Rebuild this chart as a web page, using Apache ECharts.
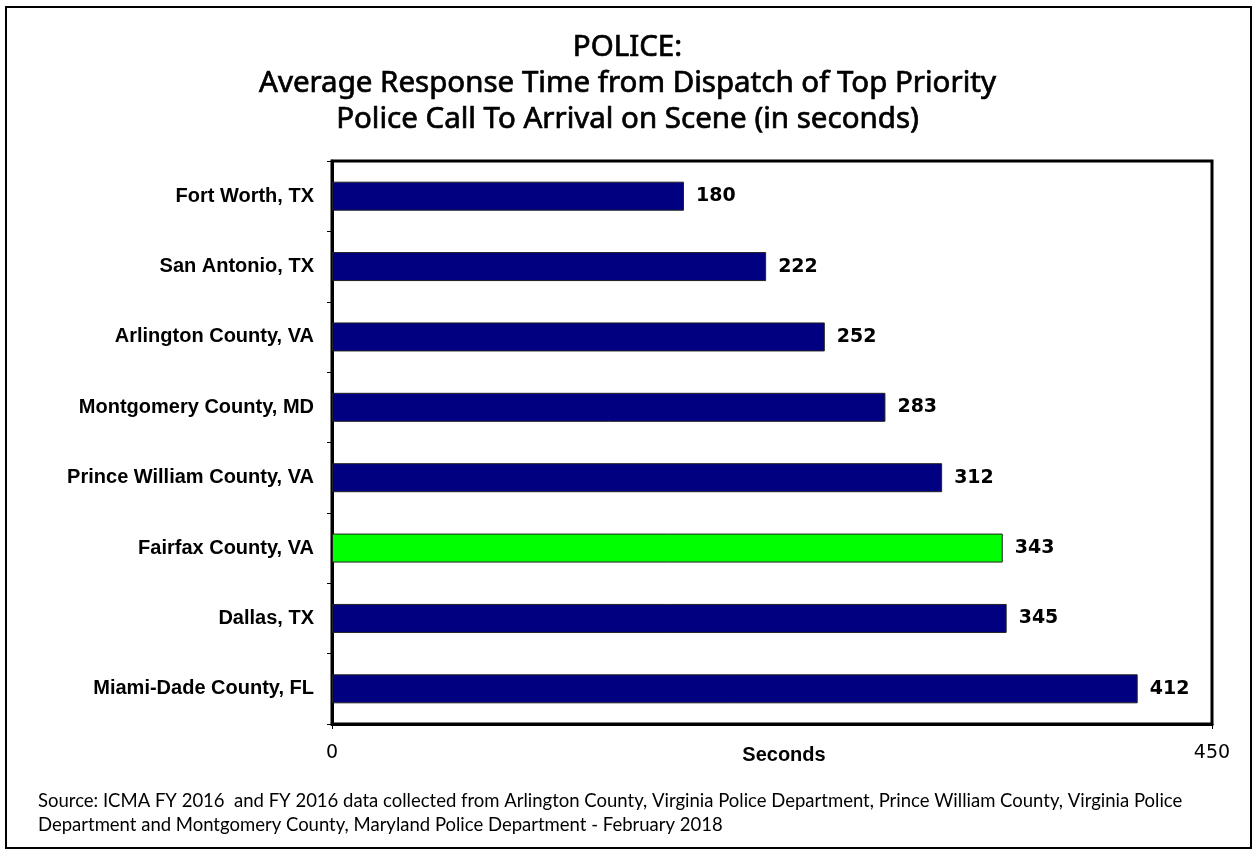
<!DOCTYPE html>
<html>
<head>
<meta charset="utf-8">
<script src="https://cdn.jsdelivr.net/npm/echarts@6/dist/echarts.min.js"></script>
<style>
  html, body { margin: 0; padding: 0; background: #fff; }
  #chart { width: 1255px; height: 852px; }
</style>
</head>
<body>
<div id="chart"></div>
<script>
// Jurisdictions, top to bottom
const categories = [
  'Fort Worth, TX',
  'San Antonio, TX',
  'Arlington County, VA',
  'Montgomery County, MD',
  'Prince William County, VA',
  'Fairfax County, VA',
  'Dallas, TX',
  'Miami-Dade County, FL'
];
// Average response time in seconds
const responseSeconds = [180, 222, 252, 283, 312, 343, 345, 412];
// Highlighted jurisdiction
const highlight = 'Fairfax County, VA';
const axisMax = 450;

const titleLines = [
  'POLICE:',
  'Average Response Time from Dispatch of Top Priority',
  'Police Call To Arrival on Scene (in seconds)'
];
const sourceLines = [
  'Source: ICMA FY 2016  and FY 2016 data collected from Arlington County, Virginia Police Department, Prince William County, Virginia Police',
  'Department and Montgomery County, Maryland Police Department - February 2018'
];

const chart = echarts.init(document.getElementById('chart'));

chart.setOption({
  animation: false,
  backgroundColor: '#ffffff',
  title: {
    text: titleLines.join('\n'),
    left: 'center',
    top: 25,
    textStyle: {
      fontFamily: 'Noto Sans',
      fontWeight: 'normal',
      fontSize: 29.5,
      lineHeight: 36,
      color: '#000',
      // slightly heavier strokes for a medium-weight heading
      textBorderColor: '#000',
      textBorderWidth: 0.7
    }
  },
  grid: {
    left: 332,
    right: 43,
    top: 161,
    bottom: 128,
    show: true,
    borderColor: '#000',
    borderWidth: 3,
    backgroundColor: 'transparent'
  },
  xAxis: {
    type: 'value',
    min: 0,
    max: axisMax,
    interval: axisMax,
    splitLine: { show: false },
    axisLine: { show: true, lineStyle: { color: '#000', width: 3 } },
    axisTick: { show: true, length: 5, lineStyle: { color: '#000', width: 1 } },
    axisLabel: {
      margin: 20,
      fontFamily: 'DejaVu Sans',
      fontSize: 19,
      color: '#000'
    },
    name: 'Seconds',
    nameLocation: 'middle',
    nameGap: 21,
    nameMoveOverlap: false,
    nameTextStyle: {
      fontFamily: 'Liberation Sans',
      fontWeight: 'bold',
      fontSize: 20,
      color: '#000',
      padding: [0, 0, 0, 24]
    }
  },
  yAxis: {
    type: 'category',
    data: categories,
    inverse: true,
    axisLine: { show: true, lineStyle: { color: '#000', width: 3 } },
    axisTick: { show: true, length: 5, lineStyle: { color: '#000', width: 1 } },
    axisLabel: {
      margin: 18,
      fontFamily: 'Liberation Sans',
      fontWeight: 'bold',
      fontSize: 20,
      color: '#000'
    }
  },
  series: [{
    type: 'bar',
    barWidth: 29,
    data: responseSeconds.map((v, i) => ({
      value: v,
      itemStyle: { color: categories[i] === highlight ? '#00ff00' : '#000080' }
    })),
    itemStyle: { borderColor: '#222', borderWidth: 1 },
    label: {
      show: true,
      position: 'right',
      distance: 12,
      fontFamily: 'DejaVu Sans',
      fontWeight: 'bold',
      fontSize: 19,
      color: '#000'
    }
  }],
  graphic: [
    {
      type: 'rect',
      shape: { x: 6, y: 7, width: 1245, height: 841 },
      style: { fill: 'none', stroke: '#000', lineWidth: 2 },
      silent: true
    },
    {
      type: 'text',
      left: 38,
      top: 789,
      style: {
        text: sourceLines.join('\n'),
        font: '18.5px Lato, "Open Sans", sans-serif',
        lineHeight: 24,
        fill: '#000'
      }
    }
  ]
});
</script>
</body>
</html>
